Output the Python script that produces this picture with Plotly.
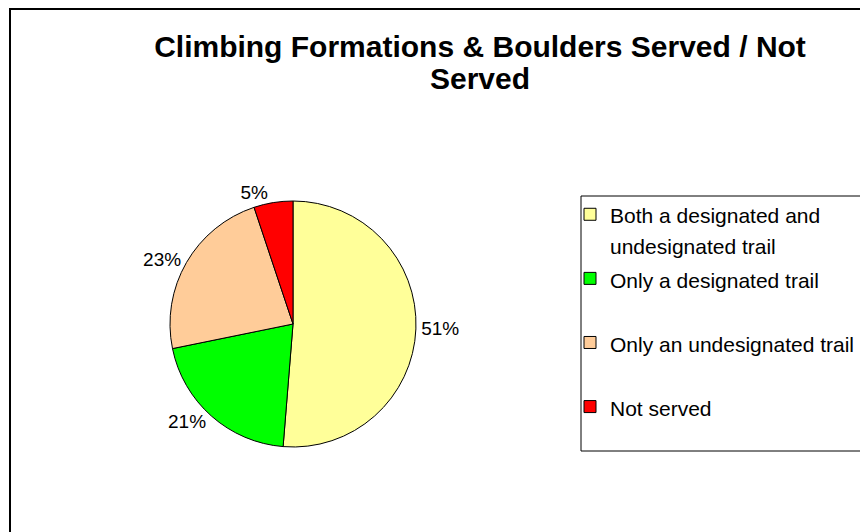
import plotly.graph_objects as go

# the page puts the figure 8px in from the window corner, so the figure is 8px smaller
W, H = 860, 524
FONT = "Liberation Sans, Arial, sans-serif"

# data
categories = ["Both a designated and<br>undesignated trail", "Only a designated trail",
              "Only an undesignated trail", "Not served"]
counts = [20, 8, 9, 2]
colors = ["#FFFF99", "#00FF00", "#FFCC99", "#FF0000"]
title_lines = ["Climbing Formations &amp; Boulders Served / Not", "Served"]


def px_x(v):
    return v / W


def px_y(v):
    return 1 - v / H


def legend_label(text, size=21):
    # every entry takes two lines so the rows are spread like the original legend
    lines = text.split("<br>")
    while len(lines) < 2:
        lines.append("")
    return "<br>".join(f'<span style="font-size:{size}px">{l}</span>' if l else "&nbsp;" for l in lines)


labels = [legend_label(c) for c in categories]

fig = go.Figure()
fig.add_trace(go.Pie(
    labels=labels, values=counts, sort=False, direction="clockwise", rotation=0,
    marker=dict(colors=colors, line=dict(color="black", width=1)),
    texttemplate="%{percent:.0%}", textposition="outside",
    textfont=dict(family=FONT, size=19, color="black"),
    domain=dict(x=[px_x(162), px_x(408)], y=[px_y(439), px_y(193)]),
    hoverinfo="label+percent",
))

title_text = "<br>".join(f'<span style="font-size:30px">{t}</span>' for t in title_lines)

fig.update_layout(
    width=W, height=H,
    margin=dict(l=0, r=0, t=0, b=0, autoexpand=False),
    paper_bgcolor="white", plot_bgcolor="white",
    title=dict(text=title_text, x=px_x(472), xanchor="center", xref="paper",
               y=px_y(49), yanchor="top", yref="container",
               font=dict(family=FONT, size=24.6, color="black", weight="bold")),
    legend=dict(x=px_x(562), xanchor="left", y=px_y(184.5), yanchor="top",
                font=dict(family=FONT, size=23.5, color="black"), valign="top",
                bgcolor="rgba(0,0,0,0)", borderwidth=0, traceorder="normal"),
    shapes=[
        dict(type="rect", xref="paper", yref="paper", x0=px_x(2), y0=px_y(1), x1=1.05, y1=-0.05,
             line=dict(color="black", width=2)),
        dict(type="rect", xref="paper", yref="paper", x0=px_x(573), y0=px_y(188), x1=1.05, y1=px_y(443),
             line=dict(color="black", width=1)),
    ],
)

fig.write_html("out.html")
